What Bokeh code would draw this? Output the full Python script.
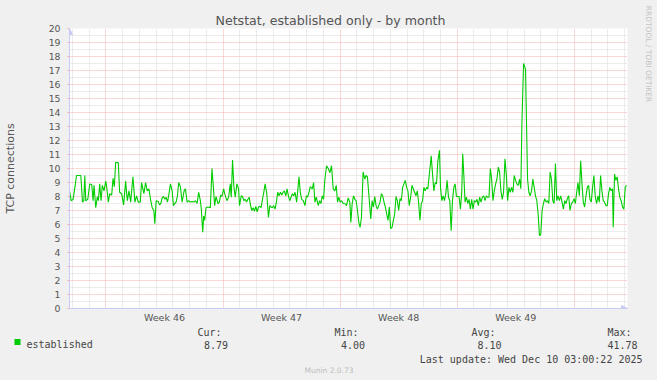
import math
from bokeh.plotting import figure
from bokeh.layouts import column, row
from bokeh.models import Range1d, FixedTicker, Label, Arrow, NormalHead, BoxAnnotation
from bokeh.embed import file_html
from bokeh.resources import INLINE

# ---------------- data (hours since start of window, TCP connections) ----------------
hours = [
    3.6, 6.5, 9.3, 12.2, 14.1, 20.3, 22.7, 24.6, 26.0, 27.4,
    30.3, 33.1, 36.0, 37.9, 39.3, 41.7, 44.1, 45.5, 47.4, 49.3,
    51.2, 53.6, 56.0, 57.4, 59.8, 61.7, 64.6, 66.5, 68.4, 70.3,
    74.1, 76.0, 78.9, 81.7, 84.6, 87.0, 89.4, 91.8, 95.1, 97.9,
    100.3, 102.7, 105.6, 107.5, 110.8, 113.2, 115.6, 118.0, 120.3, 122.7,
    125.1, 126.5, 128.4, 131.3, 133.2, 135.1, 137.0, 138.9, 140.8, 142.7,
    144.6, 146.5, 148.9, 151.3, 153.2, 155.1, 157.0, 158.9, 160.8, 163.2,
    165.6, 168.5, 170.4, 172.8, 175.1, 177.5, 179.9, 182.3, 184.7, 187.1,
    189.4, 191.8, 193.2, 195.2, 196.6, 198.0, 199.9, 202.8, 206.1, 208.5,
    210.4, 212.3, 214.2, 217.1, 219.0, 220.9, 222.8, 225.2, 227.6, 229.9,
    232.3, 234.7, 236.1, 238.0, 239.9, 241.8, 244.2, 246.6, 248.0, 250.4,
    252.3, 254.2, 256.1, 258.1, 260.0, 261.9, 263.8, 265.7, 267.6, 269.5,
    271.4, 273.3, 275.2, 277.1, 279.0, 280.9, 282.8, 284.7, 287.1, 289.5,
    291.4, 293.3, 295.2, 297.1, 299.0, 300.9, 302.8, 304.7, 306.7, 308.6,
    310.5, 312.4, 314.3, 316.2, 318.1, 320.0, 321.9, 323.8, 325.7, 327.6,
    330.0, 333.3, 335.2, 337.1, 339.5, 341.9, 343.8, 345.7, 347.6, 349.5,
    352.4, 354.3, 356.2, 358.1, 361.0, 362.9, 364.8, 366.7, 368.6, 370.5,
    372.9, 375.3, 377.7, 380.0,
    382.4, 384.8, 386.7, 388.6, 390.5, 392.4, 394.3, 396.7, 399.1, 401.5,
    403.9, 406.2, 407.7, 409.6, 411.5, 413.4, 415.3, 417.2, 419.1, 421.0,
    422.9, 425.3, 427.7, 429.6, 431.5, 433.4, 436.3, 438.2, 440.1, 442.0,
    443.9, 445.8, 447.7, 449.6, 451.5, 453.4, 455.3, 457.2, 459.1, 461.0,
    462.9, 464.8, 466.8, 468.7, 470.6, 472.5, 474.4, 476.3, 478.2, 480.1,
    482.0, 483.9, 485.8, 487.7, 489.6, 491.5, 493.5, 495.4, 497.3, 499.2,
    501.1, 503.0, 504.9, 506.8, 508.7, 510.6, 512.5, 514.4, 516.3, 518.2,
    520.6, 523.0, 524.9, 526.8, 528.7, 530.6, 532.5, 534.9, 536.3, 538.2,
    540.1, 542.0, 543.9, 545.8, 547.8, 549.7, 551.6, 553.5, 555.4, 557.3,
    559.2, 561.1, 563.0, 564.9, 566.8, 568.2, 569.7, 571.6, 573.5, 575.4,
    577.3, 579.2, 581.1, 583.0, 584.9, 586.8, 588.7, 590.6, 592.5, 594.5,
    596.4, 598.3, 600.2, 602.1, 604.0, 605.9, 607.8, 609.7, 611.6, 613.5,
    615.4, 617.3, 619.2, 621.1, 623.0, 624.9, 626.8, 628.8, 630.7, 632.6,
    634.5, 636.4, 638.3, 640.2, 642.1, 644.0, 645.9, 647.8, 649.7, 651.6,
    653.1, 655.5, 658.3, 661.2, 663.1, 665.0, 666.9, 668.8, 670.7, 672.6,
    674.5, 676.4, 678.3, 680.2, 682.1, 684.0, 685.9, 687.9, 689.8, 691.7,
    693.6, 695.5, 697.4, 699.3, 701.2, 703.1, 705.0, 706.9, 708.8, 710.7,
    712.6, 714.5, 716.4, 718.3, 720.2, 722.1, 724.1, 726.0, 727.9, 729.8,
    731.7, 733.6, 735.5, 737.4, 739.3, 741.2, 743.1, 745.0, 746.9, 748.8,
    750.7, 752.6, 754.5, 756.4, 758.4, 760.3, 762.2, 764.1, 766.0, 767.9,
    769.8, 771.7, 773.6, 775.5, 777.4, 779.3, 781.2, 783.1, 784.1, 786.0,
    787.9, 789.8, 791.7, 793.6, 795.5, 797.4, 799.4, 801.3, 803.2,
]
connections = [
    8.55, 7.7, 7.8, 8.8, 9.5, 9.5, 7.6, 7.7, 9.5, 7.7,
    7.8, 8.9, 8.85, 7.7, 8.8, 7.2, 8.0, 7.7, 8.9, 7.7,
    8.8, 8.4, 9.1, 8.7, 7.6, 8.2, 8.1, 9.3, 8.7, 10.45,
    10.4, 8.3, 8.2, 7.4, 9.1, 7.7, 8.4, 7.6, 9.4, 7.6,
    8.05, 7.6, 7.6, 9.0, 8.2, 9.0, 8.4, 8.55, 7.8, 7.2,
    7.0, 6.05, 7.7, 7.65, 7.4, 7.5, 7.9, 8.0, 7.8, 7.95,
    7.6, 8.1, 8.9, 8.4, 7.35, 7.5, 7.6, 8.05, 9.0, 8.7,
    7.6, 8.4, 8.55, 7.6, 7.7, 7.6, 7.65, 7.6, 7.7, 7.5,
    8.3, 7.7, 7.1, 5.45, 6.6, 6.3, 7.2, 7.25, 7.2, 10.0,
    8.7, 7.35, 8.0, 7.5, 7.6, 8.1, 8.0, 8.55, 8.05, 7.7,
    7.95, 8.9, 7.95, 10.6, 8.7, 7.95, 8.9, 8.55, 7.35, 8.05,
    8.0, 7.7, 7.8, 7.6, 7.8, 7.95, 7.35, 7.0, 7.2, 6.95,
    7.3, 6.9, 7.25, 7.3, 7.2, 7.8, 8.3, 8.9, 8.2, 6.5,
    7.35, 7.25, 7.2, 7.35, 7.1, 7.6, 8.3, 8.05, 8.3, 8.1,
    8.3, 8.4, 8.05, 8.55, 8.05, 7.7, 7.95, 8.2, 8.05, 8.3,
    7.6, 9.4, 8.3, 7.8, 7.7, 7.35, 8.05, 7.95, 8.3, 8.7,
    8.55, 9.0, 7.6, 7.95, 7.35, 7.7, 7.5, 8.05, 7.8, 9.25,
    10.2, 10.0, 9.7, 10.2,
    8.55, 8.4, 8.8, 7.6, 7.95, 7.6, 7.7, 7.5, 7.5, 7.35,
    7.9, 7.6, 6.15, 7.5, 8.05, 7.8, 7.7, 7.0, 6.15, 5.8,
    6.5, 9.75, 9.25, 9.5, 9.4, 8.2, 6.4, 7.7, 7.25, 8.0,
    7.35, 7.1, 7.35, 7.6, 8.2, 8.05, 7.6, 7.25, 6.75, 6.3,
    7.25, 5.7, 5.8, 6.3, 6.75, 8.0, 7.7, 7.0, 7.85, 7.7,
    8.65, 8.9, 9.15, 8.65, 8.4, 7.35, 7.95, 8.8, 8.55, 8.3,
    8.05, 8.4, 7.6, 6.3, 7.5, 7.7, 8.65, 8.4, 8.65, 8.55,
    9.75, 10.9, 9.6, 8.4, 9.0, 8.9, 10.55, 11.3, 8.65, 7.7,
    8.05, 7.7, 8.2, 9.15, 7.95, 7.7, 5.55, 7.7, 8.65, 8.9,
    8.0, 8.0, 8.0, 7.1, 8.3, 11.05, 9.6, 7.6, 7.95, 7.5,
    7.8, 7.1, 7.8, 7.1, 7.7, 7.6, 7.8, 7.35, 7.95, 7.6,
    7.95, 8.05, 7.7, 8.05, 7.95, 7.95, 10.0, 9.25, 7.7, 8.4,
    8.9, 9.25, 10.1, 9.75, 8.4, 7.8, 8.3, 10.7, 9.6, 7.7,
    8.65, 8.3, 8.65, 8.3, 9.5, 9.15, 8.9, 8.8, 9.25, 8.55,
    13.2, 17.5, 17.1, 9.25, 8.3, 8.05, 8.4, 9.25, 8.65, 8.05,
    7.7, 6.75, 5.2, 5.3, 7.0, 7.5, 7.85, 7.6, 7.7, 7.5,
    9.75, 9.25, 7.7, 7.5, 10.35, 7.7, 8.05, 7.7, 8.05, 7.6,
    7.1, 7.7, 7.5, 7.85, 8.05, 7.0, 7.5, 7.6, 7.85, 7.5,
    8.3, 9.0, 8.05, 10.55, 8.9, 7.6, 7.25, 8.05, 8.65, 8.8,
    7.8, 7.6, 8.65, 9.5, 7.95, 7.5, 8.05, 7.6, 9.5, 8.4,
    7.7, 7.6, 7.35, 7.35, 8.2, 8.65, 8.4, 8.55, 5.8, 9.6,
    9.15, 9.4, 8.55, 7.95, 7.7, 7.25, 7.1, 8.65, 8.8,
]
week_start_hours = [56.3, 224.3, 392.3, 560.3, 728.3]
week_labels = ["Week 46", "Week 47", "Week 48", "Week 49"]
y_ticks = list(range(0, 21))
series_name = "established"
stat_names = ["Cur:", "Min:", "Avg:", "Max:"]
stat_values = ["8.79", "4.00", "8.10", "41.78"]
last_update = "Last update: Wed Dec 10 03:00:22 2025"

# ---------------- layout ----------------
W_TOTAL, H_TOTAL = 657, 380
W_STRIP = 14                      # right strip carrying the vertical credit text
W = W_TOTAL - W_STRIP             # width of the main + legend column
H_MAIN = 326
H_LEG = H_TOTAL - H_MAIN
FL, FR, FT, FB = 67, 627, 28, 308          # frame edges in page px
X0, X1 = 4.07, 804.6
Y0, Y1 = 0, 20

BG = "#f0f0f0"
TXT = "#555555"
LTXT = "#444444"
MONO = "DejaVu Sans Mono"
SANS = "DejaVu Sans"
AXIS = "#c8ccf4"
MGRID = "#f4b0b0"
GRID = "#d8d8d8"

p = figure(width=W, height=H_MAIN, output_backend="svg", toolbar_location=None, tools="",
           x_range=Range1d(X0, X1), y_range=Range1d(Y0, Y1),
           min_border_left=FL, min_border_right=W - FR,
           min_border_top=FT, min_border_bottom=H_MAIN - FB)
p.frame_align = False
p.background_fill_color = "white"
p.border_fill_color = BG
p.outline_line_color = None

# title: left aligned with an offset so it sits centred on the whole image
p.title.text = "Netstat, established only - by month"
p.title.align = "left"
p.title.offset = 213 - FL
p.title.text_font = SANS
p.title.text_font_size = "12.6px"
p.title.text_font_style = "normal"
p.title.text_color = TXT
p.title.standoff = 1

# grids
day_hours = [week_start_hours[0] - 48 + 24 * k for k in range(34)]
day_minor = [d for d in day_hours if all(abs(d - w) > 1 for w in week_start_hours)]
xt = FixedTicker(ticks=week_start_hours, minor_ticks=day_minor)
p.xgrid.ticker = xt
p.xgrid.grid_line_color = MGRID
p.xgrid.grid_line_dash = "1 1"
p.xgrid.minor_grid_line_color = GRID
p.xgrid.minor_grid_line_dash = "1 1"

yt = FixedTicker(ticks=y_ticks, minor_ticks=[v + 0.5 for v in y_ticks[:-1]])
p.yaxis.ticker = yt
p.ygrid.ticker = yt
p.ygrid.grid_line_color = MGRID
p.ygrid.grid_line_dash = "1 1"
p.ygrid.minor_grid_line_color = GRID
p.ygrid.minor_grid_line_dash = "1 1"

# axes
week_mids = [w + 84 for w in week_start_hours[:-1]]
p.xaxis.ticker = FixedTicker(ticks=week_mids)
p.xaxis.major_label_overrides = {m: lab for m, lab in zip(week_mids, week_labels)}
p.xaxis.axis_line_color = AXIS
p.xaxis.major_tick_line_color = None
p.xaxis.major_tick_out = 0
p.xaxis.major_tick_in = 0
p.xaxis.minor_tick_line_color = None
p.xaxis.major_label_standoff = 3
p.xaxis.major_label_text_font = SANS
p.xaxis.major_label_text_font_size = "9.5px"
p.xaxis.major_label_text_color = TXT

p.yaxis.axis_line_color = AXIS
p.yaxis.major_tick_line_color = MGRID
p.yaxis.major_tick_out = 2
p.yaxis.major_tick_in = 0
p.yaxis.minor_tick_line_color = None
p.yaxis.major_label_standoff = 5
p.yaxis.major_label_text_font = SANS
p.yaxis.major_label_text_font_size = "9.3px"
p.yaxis.major_label_text_color = TXT
p.yaxis.axis_label = "TCP connections"
p.yaxis.axis_label_text_font = SANS
p.yaxis.axis_label_text_font_size = "11px"
p.yaxis.axis_label_text_font_style = "normal"
p.yaxis.axis_label_text_color = TXT
p.yaxis.axis_label_standoff = 29

# data line
p.line(hours, connections, line_color="#00cc00", line_width=1.1)

# arrow heads at the ends of the axes
p.add_layout(Arrow(x_start=X0, y_start=Y0, x_end=X0, y_end=Y1,
                   line_color=AXIS, line_width=1,
                   end=NormalHead(size=6, fill_color=AXIS, line_color=AXIS)))
p.add_layout(Arrow(x_start=X0, y_start=Y0, x_end=X1, y_end=Y0,
                   line_color=AXIS, line_width=1,
                   end=NormalHead(size=6, fill_color=AXIS, line_color=AXIS)))

def strip(width, height, x_lo, y_top):
    f = figure(width=width, height=height, output_backend="svg", toolbar_location=None, tools="",
               x_range=Range1d(x_lo, x_lo + width), y_range=Range1d(y_top + height, y_top),
               x_axis_type=None, y_axis_type=None, title=None,
               min_border_left=0, min_border_right=0, min_border_top=0, min_border_bottom=0)
    f.title_location = None
    f.frame_align = False
    f.background_fill_color = BG
    f.border_fill_color = BG
    f.outline_line_color = None
    f.grid.visible = False
    return f

# ---------------- legend strip (coordinates = page pixels) ----------------
q = strip(W, H_LEG, 0, H_MAIN)

def lab(fig, px, py, text, size, font=MONO, color=LTXT, align="left", baseline="alphabetic", angle=0.0):
    fig.add_layout(Label(x=px, y=py, text=text, text_font=font, text_font_size=size,
                         text_color=color, text_align=align, text_baseline=baseline, angle=angle))

q.add_layout(BoxAnnotation(left=14, right=20, top=338.5, bottom=344.5,
                           fill_color="#00cc00", fill_alpha=1.0, line_color=None))
lab(q, 26, 344, series_name, "10px")
head_right = [221, 358, 495, 631]
val_right = [227.5, 364.5, 501, 637]
for hr, name in zip(head_right, stat_names):
    lab(q, hr, 332, name, "10px", align="right")
for vr, v in zip(val_right, stat_values):
    lab(q, vr, 344, v, "10px", align="right")
lab(q, 642, 358.5, last_update, "10px", align="right")
lab(q, 328.5, 370, "Munin 2.0.73", "7.5px", font=SANS, color="#bdbdbd", align="center")

# ---------------- right strip with vertical credit ----------------
r = strip(W_STRIP, H_TOTAL, W, 0)
lab(r, 648.3, 53.5, "RRDTOOL / TOBI OETIKER", "7.5px", font=SANS, color="#c4c4c4",
    align="center", baseline="middle", angle=-math.pi / 2)

left_col = column(p, q, spacing=0, styles={"background-color": BG})
layout = row(left_col, r, spacing=0, styles={"background-color": BG})
open("out.html", "w").write(file_html(layout, INLINE))
